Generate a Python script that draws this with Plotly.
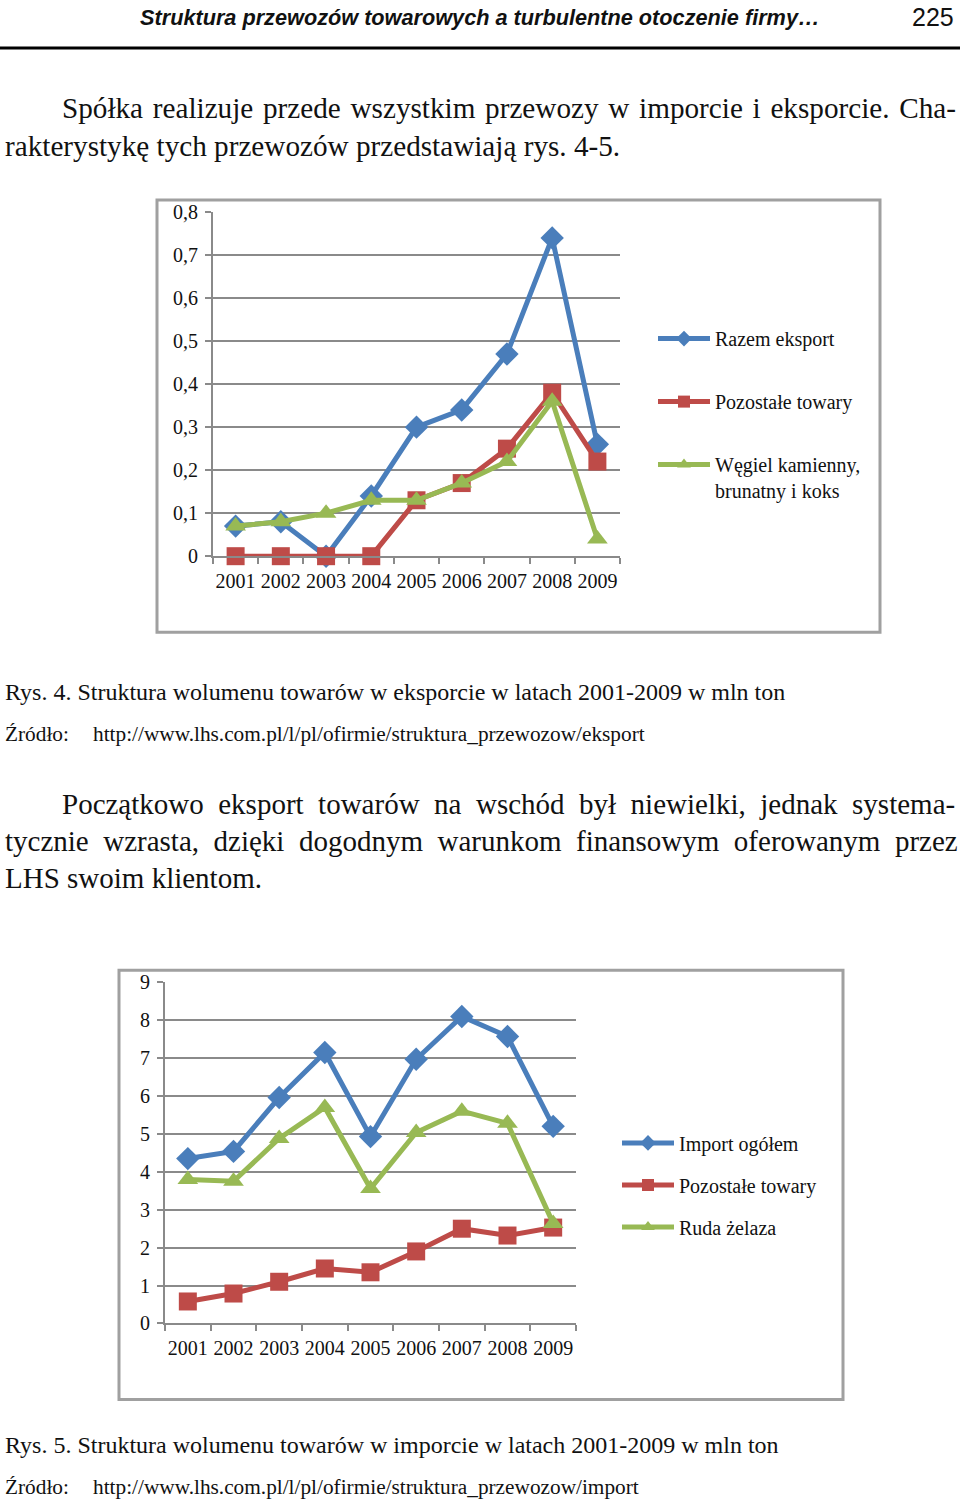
import plotly.graph_objects as go

W, H = 960, 1501
# the photographed page comes out shifted down and squeezed a little vertically;
# these two numbers undo that when converting page pixels to paper coordinates
SHIFT_Y, SCALE_Y = 10, 0.985

SERIF = "Liberation Serif, Times New Roman, serif"
NARROW = "Liberation Sans Narrow, Arial Narrow, Liberation Sans, sans-serif"

BLUE, RED, GREEN = "#4a7ebb", "#be4b48", "#98b954"
GRID = "#8a8a8a"
FRAME = "#a0a0a0"

years = ["2001", "2002", "2003", "2004", "2005", "2006", "2007", "2008", "2009"]

# Rys. 4 - eksport (mln ton)
eksport_razem = [0.07, 0.08, 0.0, 0.14, 0.30, 0.34, 0.47, 0.74, 0.26]
eksport_pozostale = [0.0, 0.0, 0.0, 0.0, 0.13, 0.17, 0.25, 0.38, 0.22]
eksport_wegiel = [0.07, 0.08, 0.10, 0.13, 0.13, 0.17, 0.22, 0.36, 0.04]

# Rys. 5 - import (mln ton)
import_razem = [4.35, 4.54, 5.96, 7.15, 4.93, 6.97, 8.10, 7.57, 5.20]
import_pozostale = [0.58, 0.79, 1.10, 1.45, 1.35, 1.90, 2.50, 2.32, 2.53]
import_ruda = [3.80, 3.75, 4.88, 5.70, 3.56, 5.04, 5.60, 5.28, 2.64]


def px(x):
    return x / W


def py(y):
    # target pixel (from the top) -> paper coordinate
    return 1 - ((y - SHIFT_Y) / SCALE_Y) / H


fig = go.Figure()

series = [
    # (y, name, colour, symbol, axes, legend)
    (eksport_razem, "Razem eksport", BLUE, "diamond", ("x", "y"), "legend"),
    (eksport_pozostale, "Pozostałe towary", RED, "square", ("x", "y"), "legend"),
    (eksport_wegiel, "Węgiel kamienny,<br>brunatny i koks", GREEN, "triangle-up", ("x", "y"), "legend"),
    (import_razem, "Import ogółem", BLUE, "diamond", ("x2", "y2"), "legend2"),
    (import_pozostale, "Pozostałe towary", RED, "square", ("x2", "y2"), "legend2"),
    (import_ruda, "Ruda żelaza", GREEN, "triangle-up", ("x2", "y2"), "legend2"),
]
for i, (vals, name, color, symbol, (xa, ya), leg) in enumerate(series):
    fig.add_scatter(
        x=years, y=vals, name=name, mode="lines+markers",
        xaxis=xa, yaxis=ya, legend=leg, legendgroup=f"g{i}",
        line={"color": color, "width": 5},
        marker={"symbol": symbol, "size": 18, "color": color},
        cliponaxis=False,
    )

axis_font = {"family": SERIF, "size": 20, "color": "#111"}
x_common = dict(
    type="category", range=[-0.5, 8.5], tickson="boundaries", ticks="outside",
    ticklen=6, tickwidth=2, tickcolor=GRID, showline=True, linecolor=GRID, linewidth=2,
    showgrid=False, tickfont=axis_font, tickangle=0, ticklabelstandoff=6, fixedrange=True,
)
y_common = dict(
    ticks="outside", ticklen=6, tickwidth=2, tickcolor=GRID, showline=True,
    linecolor=GRID, linewidth=2, showgrid=True, gridcolor=GRID, gridwidth=2,
    zeroline=False, tickfont=axis_font, ticklabelstandoff=3, fixedrange=True,
)

fig.update_layout(
    width=W, height=H,
    margin={"l": 0, "r": 0, "t": 0, "b": 0},
    paper_bgcolor="white", plot_bgcolor="white",
    separators=", ",
    showlegend=True,
    xaxis=dict(x_common, domain=[px(213), px(620)], anchor="y"),
    yaxis=dict(y_common, domain=[py(555), py(211)], range=[0, 0.8], dtick=0.1, anchor="x"),
    xaxis2=dict(x_common, domain=[px(165), px(576)], anchor="y2"),
    yaxis2=dict(y_common, domain=[py(1322), py(981)], range=[0, 9], dtick=1, anchor="x2"),
    legend=dict(
        x=px(653), y=py(318), xanchor="left", yanchor="top", valign="top",
        font={"family": SERIF, "size": 20, "color": "#111"},
        tracegroupgap=34, itemsizing="constant", itemwidth=52,
        bgcolor="rgba(0,0,0,0)",
    ),
    legend2=dict(
        x=px(617), y=py(1122), xanchor="left", yanchor="top",
        font={"family": SERIF, "size": 20, "color": "#111"},
        tracegroupgap=13, itemsizing="constant", itemwidth=52,
        bgcolor="rgba(0,0,0,0)",
    ),
)

# page frame elements
fig.add_shape(type="line", xref="paper", yref="paper", x0=0, x1=1, y0=py(47), y1=py(47),
              line={"color": "black", "width": 3})
for x0, y0, x1, y1 in [(157, 199, 880, 631), (119, 969, 843, 1398)]:
    fig.add_shape(type="rect", xref="paper", yref="paper", x0=px(x0), x1=px(x1),
                  y0=py(y1), y1=py(y0), line={"color": FRAME, "width": 3})


def text(x, y, s, size, family=SERIF, anchor="left", **font):
    fig.add_annotation(
        x=px(x), y=py(y), xref="paper", yref="paper", text=s, showarrow=False,
        xanchor=anchor, yanchor="middle",
        font={"family": family, "size": size, "color": "#111", **font},
    )


def justify(s, gap):
    # widen the word spacing of a justified line
    return s.replace(" ", gap)


EN = "\u2002"
WIDE = " \u200a"

# running header
text(822, 16, "<b><i>Struktura przewozów towarowych a turbulentne otoczenie firmy…</i></b>",
     21.7, NARROW, anchor="right")
text(956, 16, "225", 25, NARROW, anchor="right")

# body paragraph 1
text(60, 107, justify("Spółka realizuje przede wszystkim przewozy w imporcie i eksporcie. Cha-", WIDE), 29.2)
text(3, 145, "rakterystykę tych przewozów przedstawiają rys. 4-5.", 29.2)

# captions
text(3, 691, "Rys. 4. Struktura wolumenu towarów w eksporcie w latach 2001-2009 w mln ton", 24)
text(3, 733, "Źródło:", 21.3)
text(91, 733, "http://www.lhs.com.pl/l/pl/ofirmie/struktura_przewozow/eksport", 21.3)
text(3, 1444, "Rys. 5. Struktura wolumenu towarów w imporcie w latach 2001-2009 w mln ton", 24)
text(3, 1485, "Źródło:", 21.3)
text(91, 1485, "http://www.lhs.com.pl/l/pl/ofirmie/struktura_przewozow/import", 21.3)

# body paragraph 2
text(60, 803, justify("Początkowo eksport towarów na wschód był niewielki, jednak systema-", EN), 29)
text(3, 840, justify("tycznie wzrasta, dzięki dogodnym warunkom finansowym oferowanym przez", EN), 29)
text(3, 877, "LHS swoim klientom.", 29)

fig.write_html("out.html", config={"displayModeBar": False},
               post_script="document.body.style.margin='0';")
